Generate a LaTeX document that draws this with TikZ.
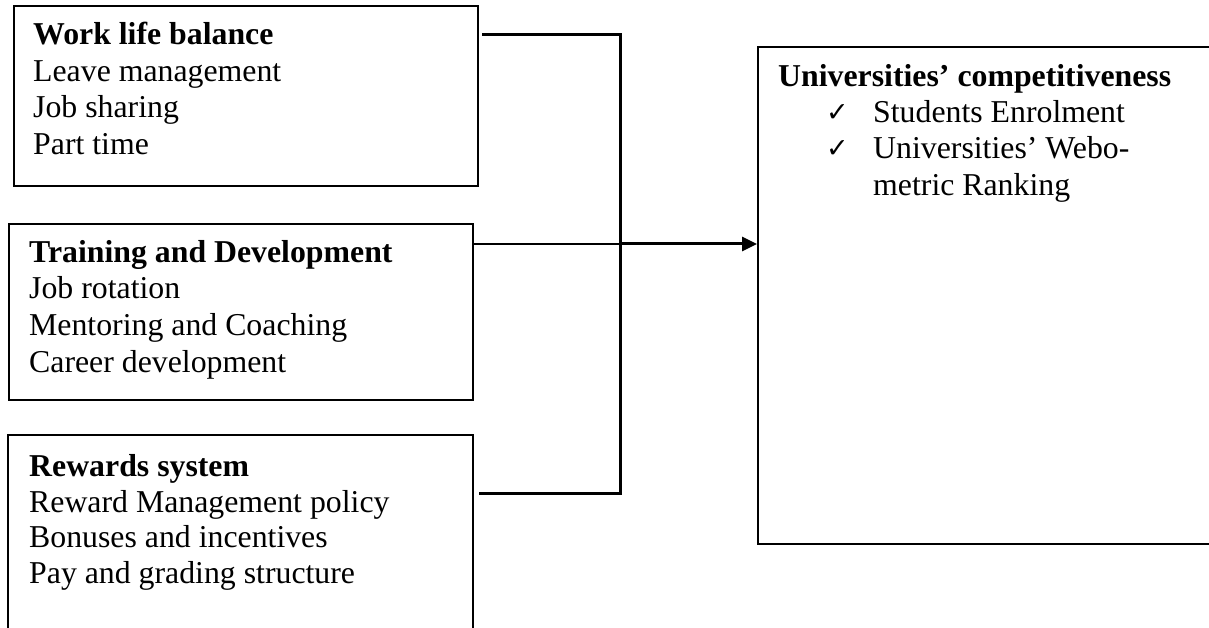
\documentclass[tikz,border=0pt]{standalone}
\usepackage{fontspec}
\setmainfont{Liberation Serif}
\newfontfamily\checkfont{DejaVu Sans}
\usetikzlibrary{arrows.meta}
\begin{document}
\begin{tikzpicture}[x=1pt,y=-1pt,
  box/.style={draw=black,line width=2.2pt,rectangle,inner sep=0pt,anchor=north west},
  txt/.style={anchor=base west,inner sep=0pt,font=\fontsize{31.8}{36.5}\selectfont},
  btxt/.style={txt,font=\fontsize{31.8}{36.5}\selectfont\bfseries},
  ctxt/.style={anchor=base west,inner sep=0pt,font=\fontsize{27}{30}\checkfont\bfseries},
  conn/.style={line width=3pt},
  thinconn/.style={line width=1.5pt}]
\useasboundingbox (0,0) rectangle (1209,628);
\clip (0,0) rectangle (1209,628);
% boxes
\node[box,minimum width=464pt,minimum height=180pt] (b1) at (13,5) {};
\node[box,minimum width=464pt,minimum height=176pt] (b2) at (8,223) {};
\node[box,minimum width=465pt,minimum height=210pt] (b3) at (7,434) {};
\node[box,minimum width=470pt,minimum height=497pt] (r) at (757,46) {};
% box 1 text
\node[btxt] (t11) at (33,45) {Work life balance};
\node[txt] (t12) at (33,82) {Leave management};
\node[txt] (t13) at (33,118) {Job sharing};
\node[txt] (t14) at (33,155) {Part time};
% box 2 text
\node[btxt] (t21) at (29,262) {Training and Development};
\node[txt] (t22) at (29,298) {Job rotation};
\node[txt] (t23) at (29,335) {Mentoring and Coaching};
\node[txt] (t24) at (29,372) {Career development};
% box 3 text
\node[btxt] (t31) at (29,476) {Rewards system};
\node[txt] (t32) at (29,512) {Reward Management policy};
\node[txt] (t33) at (29,547) {Bonuses and incentives};
\node[txt] (t34) at (29,583) {Pay and grading structure};
% right box text
\node[btxt] (r1) at (778,87) {Universities’ competitiveness};
\node[ctxt] (k1) at (826,122) {✓};
\node[ctxt] (k2) at (826,158) {✓};
\node[txt] (r2) at (873,123) {Students Enrolment};
\node[txt] (r3) at (873,159) {Universities’ Webo-};
\node[txt] (r4) at (873,196) {metric Ranking};
% connectors
\coordinate (top) at (620,35);
\coordinate (bot) at (620,493);
\coordinate (mid) at (620,244);
\draw[conn] ([shift={(3pt,-30pt)}]b1.north east) -- (top) -- (bot) -- ([shift={(5pt,-59pt)}]b3.north east);
\draw[thinconn] ([yshift=-21pt]b2.north east) -- (mid);
\draw[conn,-{Triangle[length=15pt,width=14pt]}] (mid) -- (mid -| r.west);
\end{tikzpicture}
\end{document}
